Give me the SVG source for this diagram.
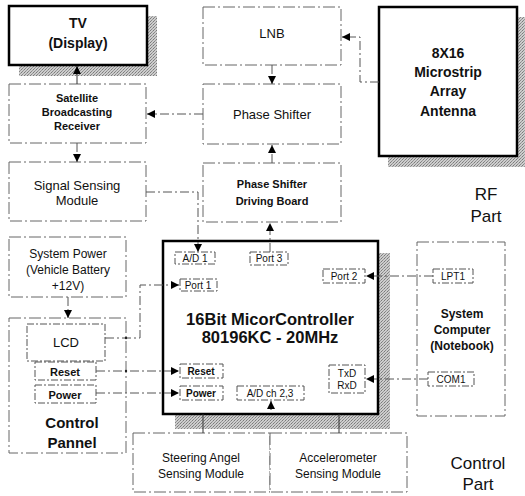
<svg xmlns="http://www.w3.org/2000/svg" width="525" height="496" viewBox="0 0 525 496">
<defs>
<pattern id="stip" width="3" height="3" patternUnits="userSpaceOnUse">
<rect width="3" height="3" fill="#cdcdcd"/>
<rect x="0" y="0" width="1" height="1" fill="#7a7a7a"/>
<rect x="2" y="1" width="1" height="1" fill="#999"/>
<rect x="1" y="2" width="1" height="1" fill="#888"/>
</pattern>
<marker id="ah" viewBox="0 0 10 10" refX="10" refY="5" markerWidth="9" markerHeight="8" markerUnits="userSpaceOnUse" orient="auto">
<path d="M0,0 L10,5 L0,10 z" fill="#000" stroke="none"/>
</marker>
<style>
.box{fill:#fff;stroke:#666;stroke-width:1;stroke-dasharray:12 3 2 3}
.sbox{fill:#fff;stroke:#555;stroke-width:1;stroke-dasharray:7 2 2 2}
.thick{fill:#fff;stroke:#000;stroke-width:2.5}
.shadow{fill:url(#stip)}
.ln{fill:none;stroke:#555;stroke-width:1;stroke-dasharray:9 3 2 3}
.sl{fill:none;stroke:#333;stroke-width:1}
text{font-family:"Liberation Sans",Arial,sans-serif;text-anchor:middle;fill:#111}
.b{font-weight:bold}
.t9{font-size:10px}
.t11{font-size:11px}
.t12{font-size:12px}
.t13{font-size:13px}
.t14{font-size:14px}
.t15{font-size:15px}
.t16{font-size:16.5px}
.t17{font-size:17px}
</style>
</defs>
<rect width="525" height="496" fill="#fff"/>

<g id="tv">
<rect class="shadow" x="19" y="16" width="138" height="60"/>
<rect class="thick" x="9" y="6" width="138" height="59"/>
<text class="b t14" x="78" y="28">TV</text>
<text class="b t14" x="78" y="48">(Display)</text>
</g>

<g id="satellite">
<rect class="box" x="9" y="84" width="137" height="59"/>
<text class="b t11" x="77" y="102">Satellite</text>
<text class="b t11" x="77" y="116">Broadcasting</text>
<text class="b t11" x="77" y="130">Receiver</text>
</g>

<g id="signal">
<rect class="box" x="9" y="162" width="137" height="59"/>
<text class="t13" x="77" y="190">Signal Sensing</text>
<text class="t13" x="77" y="205">Module</text>
</g>

<g id="lnb">
<rect class="box" x="203" y="7" width="138" height="58"/>
<text class="t13" x="272" y="38">LNB</text>
</g>

<g id="phase">
<rect class="box" x="203" y="84" width="138" height="60"/>
<text class="t13" x="272" y="119">Phase Shifter</text>
</g>

<g id="driver">
<rect class="box" x="203" y="163" width="138" height="59"/>
<text class="b t11" x="272" y="188">Phase Shifter</text>
<text class="b t11" x="272" y="205">Driving Board</text>
</g>

<g id="antenna">
<rect class="shadow" x="388" y="17" width="137" height="150"/>
<rect class="thick" x="379" y="7" width="138" height="149"/>
<text class="b t14" x="448" y="58">8X16</text>
<text class="b t14" x="448" y="77">Microstrip</text>
<text class="b t14" x="448" y="96">Array</text>
<text class="b t14" x="448" y="116">Antenna</text>
</g>

<g id="rf-label">
<text class="t17" x="486" y="200">RF</text>
<text class="t17" x="486" y="222">Part</text>
</g>

<g id="syspower">
<rect class="box" x="9" y="237" width="117" height="60"/>
<text class="t12" x="68" y="258">System Power</text>
<text class="t12" x="68" y="274">(Vehicle Battery</text>
<text class="t12" x="68" y="290">+12V)</text>
</g>

<g id="control-panel">
<rect class="box" x="9" y="318" width="117" height="135"/>
<rect class="sbox" x="27" y="324" width="78" height="37"/>
<text class="t13" x="66" y="347">LCD</text>
<rect class="sbox" x="35" y="362" width="61" height="18"/>
<text class="b t11" x="65" y="376">Reset</text>
<rect class="sbox" x="35" y="385" width="61" height="18"/>
<text class="b t11" x="65" y="399">Power</text>
<text class="b t15" x="72" y="428">Control</text>
<text class="b t15" x="72" y="448">Pannel</text>
</g>

<g id="micro">
<rect class="shadow" x="175" y="253" width="215" height="176"/>
<rect class="thick" x="163" y="241" width="215" height="173"/>
<text class="b t16" x="270" y="325">16Bit MicorController</text>
<text class="b t16" x="270" y="343">80196KC - 20MHz</text>
<rect class="sbox" x="175" y="252" width="40" height="12"/>
<text class="t9" x="195" y="262">A/D 1</text>
<rect class="sbox" x="250" y="252" width="38" height="13"/>
<text class="t9" x="269" y="262">Port 3</text>
<rect class="sbox" x="180" y="279" width="37" height="12"/>
<text class="t9" x="198" y="289">Port 1</text>
<rect class="sbox" x="323" y="269" width="42" height="14"/>
<text class="t9" x="344" y="280">Port 2</text>
<rect class="sbox" x="180" y="364" width="43" height="14"/>
<text class="b t9" x="201" y="375">Reset</text>
<rect class="sbox" x="180" y="386" width="43" height="14"/>
<text class="b t9" x="201" y="397">Power</text>
<rect class="sbox" x="237" y="386" width="67" height="14"/>
<text class="t9" x="270" y="397">A/D ch 2,3</text>
<rect class="sbox" x="329" y="365" width="36" height="28"/>
<text class="t9" x="347" y="377">TxD</text>
<text class="t9" x="347" y="389">RxD</text>
</g>

<g id="computer">
<rect class="box" x="417" y="242" width="88" height="174"/>
<rect class="sbox" x="433" y="269" width="40" height="14"/>
<text class="t9" x="453" y="280">LPT1</text>
<rect class="sbox" x="428" y="372" width="46" height="14"/>
<text class="t9" x="451" y="383">COM1</text>
<text class="b t12" x="462" y="318">System</text>
<text class="b t12" x="462" y="334">Computer</text>
<text class="b t12" x="462" y="350">(Notebook)</text>
</g>

<g id="steering">
<rect class="box" x="133" y="433" width="137" height="59"/>
<text class="t12" x="201" y="462">Steering Angel</text>
<text class="t12" x="201" y="478">Sensing Module</text>
</g>

<g id="accel">
<rect class="box" x="270" y="433" width="137" height="59"/>
<text class="t12" x="338" y="462">Accelerometer</text>
<text class="t12" x="338" y="478">Sensing Module</text>
</g>

<g id="control-label">
<text class="t17" x="478" y="469">Control</text>
<text class="t17" x="478" y="490">Part</text>
</g>

<g id="connectors">
<path class="sl" d="M77,84 V66" marker-end="url(#ah)"/>
<path class="ln" d="M77,143 V162" marker-end="url(#ah)"/>
<path class="ln" d="M203,114 H147" marker-end="url(#ah)"/>
<path class="ln" d="M379,82 H360 V37 H342" marker-end="url(#ah)"/>
<path class="ln" d="M272,65 V84" marker-end="url(#ah)"/>
<path class="ln" d="M272,163 V145" marker-end="url(#ah)"/>
<path class="ln" d="M270,252 V223" marker-end="url(#ah)"/>
<path class="ln" d="M146,192 H198 V252" marker-end="url(#ah)"/>
<path class="ln" d="M105,338 H140 V285 H179" marker-end="url(#ah)"/>
<path class="ln" d="M68,297 V318" marker-end="url(#ah)"/>
<path class="ln" d="M96,371 H179" marker-end="url(#ah)"/>
<path class="ln" d="M96,393 H179" marker-end="url(#ah)"/>
<path class="ln" d="M433,276 H366" marker-end="url(#ah)"/>
<path class="ln" d="M428,379 H366" marker-end="url(#ah)"/>
<path class="sl" d="M271,410 V401" marker-end="url(#ah)"/>
<path class="sl" d="M203,414 V433"/>
<path class="sl" d="M339,414 V433"/>
<circle cx="126" cy="338" r="1.2" fill="#222"/>
<circle cx="126" cy="371" r="1.2" fill="#222"/>
</g>
</svg>
